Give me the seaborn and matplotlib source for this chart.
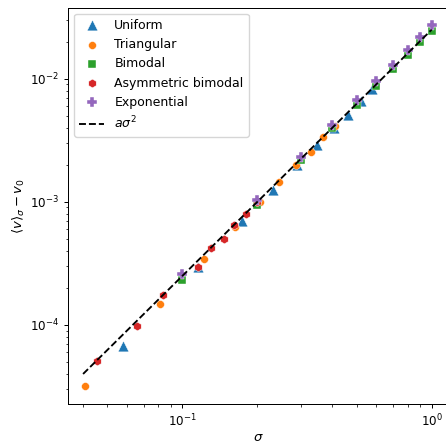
import matplotlib
matplotlib.use("Agg")
import matplotlib.pyplot as plt
import seaborn as sns

# Width sigma of each fluctuation distribution and the measured shift <v>_sigma - v0
uniform_sigma = [0.0577, 0.1155, 0.173, 0.231, 0.289, 0.346, 0.404, 0.462, 0.520, 0.577]
uniform_shift = [6.77e-5, 2.94e-4, 6.92e-4, 1.24e-3, 2.0e-3, 2.9e-3, 4.0e-3, 5.09e-3, 6.53e-3, 8.24e-3]

triangular_sigma = [0.0408, 0.0816, 0.1225, 0.163, 0.204, 0.245, 0.286, 0.327, 0.367, 0.408]
triangular_shift = [3.2e-5, 1.48e-4, 3.46e-4, 6.26e-4, 9.94e-4, 1.445e-3, 2.0e-3, 2.56e-3, 3.34e-3, 4.1e-3]

bimodal_sigma = [0.1, 0.2, 0.3, 0.4, 0.5, 0.6, 0.7, 0.8, 0.9, 1.0]
bimodal_shift = [2.32e-4, 9.5e-4, 2.19e-3, 3.97e-3, 6.07e-3, 8.77e-3, 1.20e-2, 1.567e-2, 1.99e-2, 2.43e-2]

asym_sigma = [0.0454, 0.0661, 0.0833, 0.1152, 0.1304, 0.1466, 0.1608, 0.180, 0.2]
asym_shift = [5.13e-5, 9.8e-5, 1.75e-4, 2.98e-4, 4.2e-4, 5.0e-4, 6.5e-4, 7.94e-4, 9.9e-4]

exponential_sigma = [0.1, 0.2, 0.3, 0.4, 0.5, 0.6, 0.7, 0.8, 0.9, 1.0]
exponential_shift = [2.6e-4, 1.04e-3, 2.33e-3, 4.23e-3, 6.67e-3, 9.5e-3, 1.30e-2, 1.70e-2, 2.18e-2, 2.70e-2]

# Quadratic reference a*sigma^2 (a = 0.025), given by its end points
fit_sigma = [0.04, 1.0]
fit_shift = [4.0e-5, 2.5e-2]

series_names = ["Uniform", "Triangular", "Bimodal", "Asymmetric bimodal", "Exponential"]

plt.rcParams.update({
    "font.size": 9,
    "xtick.labelsize": 8.6,
    "ytick.labelsize": 8.6,
    "legend.fontsize": 9,
    "axes.labelsize": 9.5,
    "axes.linewidth": 0.72,
    "xtick.major.width": 0.72,
    "ytick.major.width": 0.72,
    "xtick.minor.width": 0.54,
    "ytick.minor.width": 0.54,
    "xtick.major.size": 3.15,
    "ytick.major.size": 3.15,
    "xtick.minor.size": 1.8,
    "ytick.minor.size": 1.8,
})

palette = sns.color_palette("tab10")
series = [
    (uniform_sigma, uniform_shift, "^", 60),
    (triangular_sigma, triangular_shift, "o", 32),
    (bimodal_sigma, bimodal_shift, "s", 30),
    (asym_sigma, asym_shift, "h", 38),
    (exponential_sigma, exponential_shift, "P", 46),
]

fig = plt.figure(figsize=(4.46, 4.43), dpi=100)
ax = fig.add_axes([68 / 446, (443 - 403.8) / 443, (449 - 68) / 446, (403.8 - 7.5) / 443])

for name, (xs, ys, marker, size), color in zip(series_names, series, palette):
    sns.scatterplot(x=xs, y=ys, marker=marker, s=size, color=color,
                    edgecolor="w", linewidth=0.3,
                    label=name, ax=ax, zorder=3)

sns.lineplot(x=fit_sigma, y=fit_shift, color="k", linestyle="--", linewidth=1.35,
             label=r"$a\sigma^2$", ax=ax, zorder=4)

ax.set_xscale("log")
ax.set_yscale("log")
ax.set_xlim(0.0348, 1.173)
ax.set_ylim(2.29e-5, 0.0378)
ax.set_xlabel(r"$\sigma$", labelpad=1.0)
ax.set_ylabel(r"$\langle v\rangle_\sigma - v_0$", labelpad=2.0)
ax.legend(loc="upper left")

fig.savefig("out.png", dpi=100)
